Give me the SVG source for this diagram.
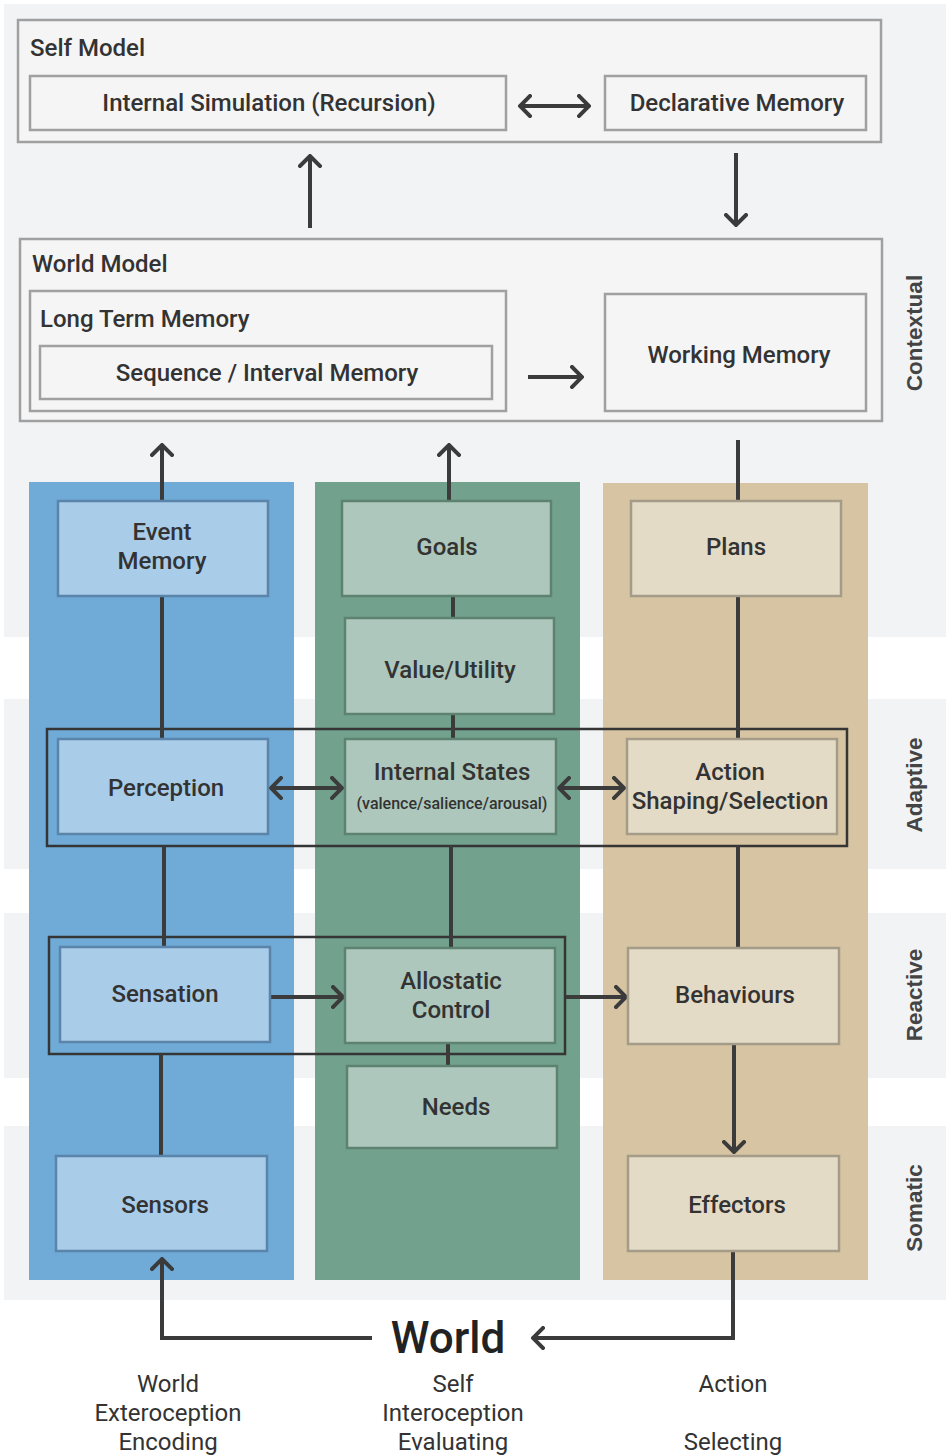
<svg xmlns="http://www.w3.org/2000/svg" width="950" height="1456" viewBox="0 0 950 1456">
  <defs>
    <style>
      .band { fill: #f2f3f5; }
      .gbox { fill: #f5f5f6; stroke: #a0a0a0; stroke-width: 2.5; }
      .bbox { fill: #a9cce8; stroke: #5a84aa; stroke-width: 2.5; }
      .vbox { fill: #adc7bc; stroke: #5e8272; stroke-width: 2.5; }
      .tbox { fill: #e4dbc7; stroke: #a49b89; stroke-width: 2.5; }
      .frame { fill: none; stroke: #353535; stroke-width: 2.5; }
      .wire { fill: none; stroke: #3b3b3b; stroke-width: 4; }
      .t { font-family: Roboto, "Liberation Sans", sans-serif; font-weight: 500; font-size: 24px; fill: #333; }
      .c { text-anchor: middle; }
      .small { font-size: 16px; }
      .side { font-family: "Liberation Sans", Arial, sans-serif; font-weight: bold; font-size: 22.5px; fill: #444; text-anchor: middle; }
      .world { font-family: Roboto, "Liberation Sans", sans-serif; font-weight: 500; font-size: 44px; fill: #222; text-anchor: middle; }
      .foot { font-family: Roboto, "Liberation Sans", sans-serif; font-size: 24px; fill: #333; text-anchor: middle; }
    </style>
    <marker id="head" viewBox="0 0 14 24" refX="12" refY="12" markerWidth="14" markerHeight="24" markerUnits="userSpaceOnUse" orient="auto-start-reverse">
      <path d="M2,2 L12,12 L2,22" fill="none" stroke="#3b3b3b" stroke-width="4" stroke-linecap="square"/>
    </marker>
  </defs>

  <!-- horizontal level bands -->
  <g id="bands">
    <rect class="band" x="4" y="4" width="942" height="633"/>
    <rect class="band" x="4" y="699" width="942" height="170"/>
    <rect class="band" x="4" y="913" width="942" height="165"/>
    <rect class="band" x="4" y="1126" width="942" height="174"/>
  </g>

  <!-- vertical columns -->
  <g id="columns">
    <rect x="29" y="482" width="265" height="798" fill="#70abd7"/>
    <rect x="315" y="482" width="265" height="798" fill="#72a28d"/>
    <rect x="603" y="483" width="265" height="797" fill="#d6c4a3"/>
  </g>

  <!-- level labels -->
  <g id="level-labels">
    <text class="side" transform="translate(922,333) rotate(-90)">Contextual</text>
    <text class="side" transform="translate(922,785) rotate(-90)">Adaptive</text>
    <text class="side" transform="translate(922,995) rotate(-90)">Reactive</text>
    <text class="side" transform="translate(922,1208) rotate(-90)">Somatic</text>
  </g>

  <g id="self-model">
    <rect class="gbox" x="18" y="20" width="863" height="122"/>
    <text class="t" x="30" y="56">Self Model</text>
  </g>
  <g id="internal-simulation">
    <rect class="gbox" x="30" y="76" width="476" height="54"/>
    <text class="t c" x="269" y="111">Internal Simulation (Recursion)</text>
  </g>
  <g id="declarative-memory">
    <rect class="gbox" x="605" y="76" width="261" height="54"/>
    <text class="t c" x="737" y="111">Declarative Memory</text>
  </g>

  <g id="world-model">
    <rect class="gbox" x="20" y="239" width="862" height="182"/>
    <text class="t" x="32" y="272">World Model</text>
  </g>
  <g id="long-term-memory">
    <rect class="gbox" x="30" y="291" width="476" height="120"/>
    <text class="t" x="40" y="327">Long Term Memory</text>
  </g>
  <g id="sequence-memory">
    <rect class="gbox" x="40" y="346" width="452" height="53"/>
    <text class="t c" x="267" y="381">Sequence / Interval Memory</text>
  </g>
  <g id="working-memory">
    <rect class="gbox" x="605" y="294" width="261" height="117"/>
    <text class="t c" x="739" y="363">Working Memory</text>
  </g>

  <!-- grouping frames -->
  <g id="adaptive-frame">
    <rect class="frame" x="47" y="729" width="800" height="117"/>
  </g>
  <g id="reactive-frame">
    <rect class="frame" x="49" y="937" width="516" height="117"/>
  </g>

  <!-- connectors -->
  <g id="connectors">
    <line class="wire" x1="520" y1="106" x2="589" y2="106" marker-start="url(#head)" marker-end="url(#head)"/>
    <line class="wire" x1="310" y1="228" x2="310" y2="156" marker-end="url(#head)"/>
    <line class="wire" x1="736" y1="153" x2="736" y2="225" marker-end="url(#head)"/>
    <line class="wire" x1="528" y1="377" x2="582" y2="377" marker-end="url(#head)"/>

    <line class="wire" x1="162" y1="501" x2="162" y2="445" marker-end="url(#head)"/>
    <line class="wire" x1="449" y1="501" x2="449" y2="445" marker-end="url(#head)"/>
    <line class="wire" x1="738" y1="440" x2="738" y2="501"/>

    <line class="wire" x1="162" y1="596" x2="162" y2="739"/>
    <line class="wire" x1="453" y1="596" x2="453" y2="618"/>
    <line class="wire" x1="453" y1="714" x2="453" y2="739"/>
    <line class="wire" x1="738" y1="596" x2="738" y2="739"/>

    <line class="wire" x1="271" y1="788" x2="342" y2="788" marker-start="url(#head)" marker-end="url(#head)"/>
    <line class="wire" x1="559" y1="788" x2="624" y2="788" marker-start="url(#head)" marker-end="url(#head)"/>

    <line class="wire" x1="164" y1="846" x2="164" y2="947"/>
    <line class="wire" x1="451" y1="846" x2="451" y2="948"/>
    <line class="wire" x1="738" y1="846" x2="738" y2="948"/>

    <line class="wire" x1="270" y1="997" x2="343" y2="997" marker-end="url(#head)"/>
    <line class="wire" x1="566" y1="997" x2="626" y2="997" marker-end="url(#head)"/>

    <line class="wire" x1="448" y1="1043" x2="448" y2="1066"/>
    <line class="wire" x1="161" y1="1054" x2="161" y2="1156"/>
    <line class="wire" x1="734" y1="1044" x2="734" y2="1152" marker-end="url(#head)"/>

    <polyline class="wire" points="733,1251 733,1338 533,1338" marker-end="url(#head)"/>
    <polyline class="wire" points="372,1338 162,1338 162,1259" marker-end="url(#head)"/>
  </g>

  <!-- blue column: exteroception -->
  <g id="event-memory">
    <rect class="bbox" x="58" y="501" width="210" height="95"/>
    <text class="t c" x="162" y="540">Event</text>
    <text class="t c" x="162" y="569">Memory</text>
  </g>
  <g id="perception">
    <rect class="bbox" x="58" y="739" width="210" height="95"/>
    <text class="t c" x="166" y="796">Perception</text>
  </g>
  <g id="sensation">
    <rect class="bbox" x="60" y="947" width="210" height="95"/>
    <text class="t c" x="165" y="1002">Sensation</text>
  </g>
  <g id="sensors">
    <rect class="bbox" x="56" y="1156" width="211" height="95"/>
    <text class="t c" x="165" y="1213">Sensors</text>
  </g>

  <!-- green column: interoception -->
  <g id="goals">
    <rect class="vbox" x="342" y="501" width="209" height="95"/>
    <text class="t c" x="447" y="555">Goals</text>
  </g>
  <g id="value-utility">
    <rect class="vbox" x="345" y="618" width="209" height="96"/>
    <text class="t c" x="450" y="678">Value/Utility</text>
  </g>
  <g id="internal-states">
    <rect class="vbox" x="345" y="739" width="211" height="95"/>
    <text class="t c" x="452" y="780">Internal States</text>
    <text class="t c small" x="452" y="809">(valence/salience/arousal)</text>
  </g>
  <g id="allostatic-control">
    <rect class="vbox" x="345" y="948" width="210" height="95"/>
    <text class="t c" x="451" y="989">Allostatic</text>
    <text class="t c" x="451" y="1018">Control</text>
  </g>
  <g id="needs">
    <rect class="vbox" x="347" y="1066" width="210" height="82"/>
    <text class="t c" x="456" y="1115">Needs</text>
  </g>

  <!-- tan column: action -->
  <g id="plans">
    <rect class="tbox" x="631" y="501" width="210" height="95"/>
    <text class="t c" x="736" y="555">Plans</text>
  </g>
  <g id="action-selection">
    <rect class="tbox" x="627" y="739" width="210" height="95"/>
    <text class="t c" x="730" y="780">Action</text>
    <text class="t c" x="730" y="809">Shaping/Selection</text>
  </g>
  <g id="behaviours">
    <rect class="tbox" x="628" y="948" width="211" height="96"/>
    <text class="t c" x="735" y="1003">Behaviours</text>
  </g>
  <g id="effectors">
    <rect class="tbox" x="628" y="1156" width="211" height="95"/>
    <text class="t c" x="737" y="1213">Effectors</text>
  </g>

  <g id="world">
    <text class="world" x="448" y="1353">World</text>
  </g>

  <g id="captions">
    <text class="foot" x="168" y="1392">World</text>
    <text class="foot" x="168" y="1421">Exteroception</text>
    <text class="foot" x="168" y="1450">Encoding</text>
    <text class="foot" x="453" y="1392">Self</text>
    <text class="foot" x="453" y="1421">Interoception</text>
    <text class="foot" x="453" y="1450">Evaluating</text>
    <text class="foot" x="733" y="1392">Action</text>
    <text class="foot" x="733" y="1450">Selecting</text>
  </g>
</svg>
